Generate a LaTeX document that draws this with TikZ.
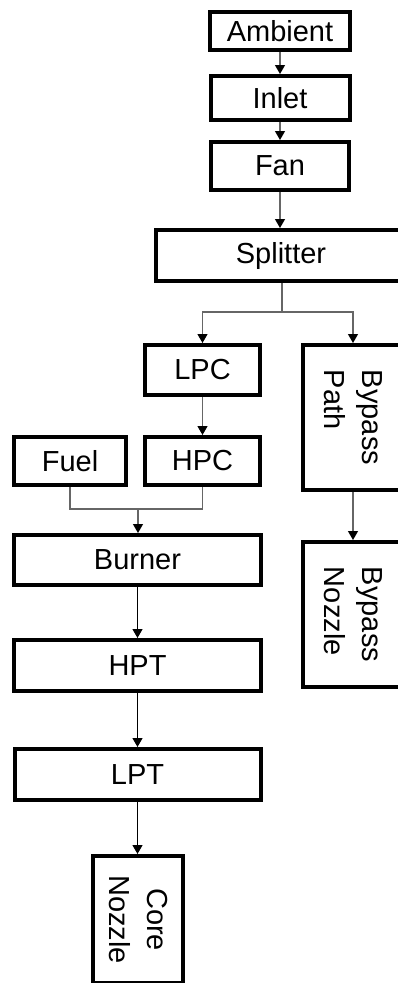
\documentclass[tikz,border=0pt]{standalone}
\usepackage{fontspec}
\setmainfont{Liberation Sans}
\usetikzlibrary{arrows.meta}
\begin{document}
\begin{tikzpicture}[x=1pt,y=-1pt,
  blk/.style={draw=black,line width=4pt,fill=white,inner sep=0pt,font=\fontsize{29}{38}\selectfont},
  conn/.style={draw=black!60,line width=1.3pt},
  arr/.style={conn,-{Triangle[width=10pt,length=9pt,color=black,fill=black]}},
  darr/.style={arr,draw=black}]
\useasboundingbox (0,0) rectangle (398,983);
\clip (0,0) rectangle (398,983);
\node[blk,minimum width=140pt,minimum height=38pt] (amb) at (280,31) {Ambient};
\node[blk,minimum width=139pt,minimum height=44pt] (inl) at (280,98) {Inlet};
\node[blk,minimum width=138pt,minimum height=48pt] (fan) at (280,166) {Fan};
\node[blk,minimum width=250pt,minimum height=51pt] (spl) at (281,255.5) {Splitter};
\node[blk,minimum width=115pt,minimum height=50pt] (lpc) at (202.5,370) {LPC};
\node[blk,minimum width=115pt,minimum height=48pt] (hpc) at (202.5,461) {HPC};
\node[blk,minimum width=112pt,minimum height=48pt] (fuel) at (70,461) {Fuel};
\node[blk,minimum width=247pt,minimum height=50pt] (bur) at (137.5,560) {Burner};
\node[blk,minimum width=247pt,minimum height=51pt] (hpt) at (137.5,665.5) {HPT};
\node[blk,minimum width=246pt,minimum height=51pt] (lpt) at (137.5,774.5) {LPT};
\node[blk,minimum width=100pt,minimum height=145pt] (bpp) at (353,417.5) {};
\node[rotate=-90,align=left,inner sep=0pt,font=\fontsize{29}{38}\selectfont] (bppt) at (bpp.center) {Bypass\\Path};
\node[blk,minimum width=100pt,minimum height=145pt] (bpn) at (353,614.5) {};
\node[rotate=-90,align=left,inner sep=0pt,font=\fontsize{29}{38}\selectfont] (bpnt) at (bpn.center) {Bypass\\Nozzle};
\node[blk,minimum width=90pt,minimum height=127pt] (cn) at (138,919.5) {};
\node[rotate=-90,align=center,inner sep=0pt,font=\fontsize{29}{38}\selectfont] (cnt) at (cn.center) {Core\\Nozzle};
\coordinate (sj) at (282,312);
\coordinate (fj) at (138,509);
\draw[arr] (amb.south) -- (inl.north);
\draw[arr] (inl.south) -- (fan.north);
\draw[arr] (fan.south) -- (fan.south |- spl.north);
\draw[conn] (spl.south -| sj) -- (sj);
\draw[arr] (sj) -| (lpc.north);
\draw[arr] (sj) -| (bpp.north);
\draw[arr] (lpc.south) -- (hpc.north);
\draw[conn] (fuel.south) |- (fj);
\draw[conn] (hpc.south) |- (fj);
\draw[arr] (fj) -- (fj |- bur.north);
\draw[darr] (bur.south) -- (hpt.north);
\draw[darr] (hpt.south) -- (lpt.north);
\draw[darr] (lpt.south) -- (lpt.south |- cn.north);
\draw[arr] (bpp.south) -- (bpn.north);
\end{tikzpicture}
\end{document}
